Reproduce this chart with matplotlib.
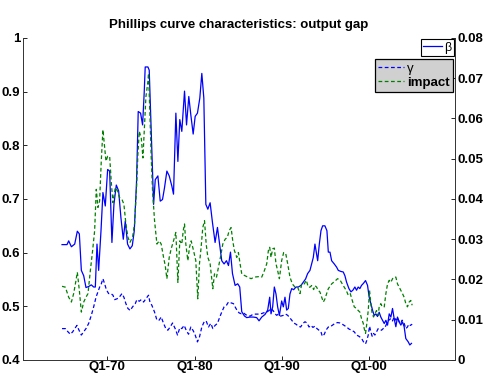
import matplotlib
matplotlib.use("Agg")
import matplotlib.pyplot as plt

plt.rcParams['font.family'] = ['Liberation Sans', 'DejaVu Sans']

# beta (left axis)
beta_t = [1964.82, 1965.39, 1965.58, 1965.89, 1966.27, 1966.57, 1966.80, 1967.03, 1967.30, 1967.56,
          1967.87, 1968.17, 1968.44, 1968.63, 1968.82, 1969.01, 1969.28, 1969.50, 1969.77, 1970.04,
          1970.27, 1970.53, 1970.76, 1971.03, 1971.30, 1971.56, 1971.83, 1972.06, 1972.32, 1972.59,
          1972.86, 1973.09, 1973.35, 1973.54, 1973.81, 1974.04, 1974.23, 1974.34, 1974.65, 1974.80,
          1975.03, 1975.30, 1975.49, 1975.79, 1976.06, 1976.32, 1976.55, 1976.82, 1977.09, 1977.39,
          1977.58, 1977.85, 1978.08, 1978.30, 1978.53, 1978.84, 1979.07, 1979.33, 1979.56, 1979.83,
          1980.06, 1980.32, 1980.59, 1980.82, 1981.05, 1981.28, 1981.51, 1981.77, 1982.04, 1982.34,
          1982.61, 1982.88, 1983.10, 1983.37, 1983.64, 1983.87, 1984.10, 1984.33, 1984.63, 1984.93,
          1985.16, 1985.39, 1985.70, 1985.96, 1986.34, 1986.72, 1987.10, 1987.37, 1987.68, 1988.06,
          1988.36, 1988.59, 1988.74, 1988.93, 1989.12, 1989.31, 1989.50, 1989.70, 1989.96, 1990.15,
          1990.34, 1990.53, 1990.72, 1990.91, 1991.11, 1991.33, 1991.60, 1991.87, 1992.17, 1992.44,
          1992.70, 1992.93, 1993.20, 1993.39, 1993.58, 1993.77, 1993.92, 1994.08, 1994.27, 1994.46,
          1994.65, 1994.91, 1995.14, 1995.30, 1995.49, 1995.68, 1995.98, 1996.25, 1996.44, 1996.74,
          1997.01, 1997.20, 1997.39, 1997.66, 1997.89, 1998.11, 1998.34, 1998.53, 1998.72, 1998.91,
          1999.10, 1999.33, 1999.56, 1999.79, 1999.98, 2000.17, 2000.36, 2000.55, 2000.74, 2000.93,
          2001.12, 2001.31, 2001.50, 2001.70, 2001.89, 2002.08, 2002.27, 2002.46, 2002.65, 2002.84,
          2003.03, 2003.22, 2003.41, 2003.60, 2003.79, 2003.98, 2004.17, 2004.44, 2004.63, 2004.82]
beta = [0.615, 0.615, 0.622, 0.611, 0.616, 0.640, 0.635, 0.567, 0.557, 0.535,
        0.537, 0.540, 0.536, 0.536, 0.616, 0.567, 0.641, 0.712, 0.687, 0.755,
        0.752, 0.619, 0.690, 0.726, 0.715, 0.665, 0.625, 0.659, 0.616, 0.607,
        0.613, 0.641, 0.733, 0.863, 0.860, 0.838, 0.900, 0.946, 0.946, 0.940,
        0.826, 0.690, 0.736, 0.743, 0.696, 0.699, 0.721, 0.752, 0.743, 0.724,
        0.709, 0.860, 0.770, 0.848, 0.826, 0.901, 0.838, 0.891, 0.857, 0.821,
        0.854, 0.860, 0.888, 0.934, 0.888, 0.690, 0.681, 0.693, 0.656, 0.619,
        0.647, 0.613, 0.585, 0.579, 0.585, 0.576, 0.601, 0.561, 0.539, 0.542,
        0.536, 0.490, 0.482, 0.479, 0.480, 0.480, 0.479, 0.473, 0.480, 0.485,
        0.493, 0.517, 0.486, 0.499, 0.536, 0.523, 0.499, 0.483, 0.510, 0.499,
        0.517, 0.493, 0.496, 0.523, 0.533, 0.531, 0.536, 0.536, 0.539, 0.545,
        0.551, 0.561, 0.567, 0.579, 0.591, 0.616, 0.601, 0.585, 0.616, 0.641,
        0.650, 0.650, 0.641, 0.601, 0.601, 0.585, 0.579, 0.573, 0.567, 0.565,
        0.564, 0.557, 0.545, 0.533, 0.527, 0.530, 0.536, 0.530, 0.536, 0.533,
        0.539, 0.543, 0.548, 0.539, 0.517, 0.505, 0.493, 0.483, 0.486, 0.481,
        0.489, 0.480, 0.474, 0.468, 0.474, 0.465, 0.486, 0.480, 0.496, 0.477,
        0.462, 0.480, 0.471, 0.465, 0.471, 0.462, 0.440, 0.434, 0.428, 0.431]

# gamma (right axis)
gamma_t = [1964.82, 1965.20, 1965.50, 1965.77, 1966.04, 1966.27, 1966.53, 1966.72, 1967.03, 1967.30,
           1967.56, 1967.87, 1968.17, 1968.44, 1968.71, 1968.93, 1969.12, 1969.31, 1969.50, 1969.70,
           1969.89, 1970.15, 1970.42, 1970.65, 1970.84, 1971.11, 1971.37, 1971.68, 1971.90, 1972.13,
           1972.36, 1972.63, 1972.89, 1973.20, 1973.39, 1973.66, 1973.89, 1974.15, 1974.42, 1974.72,
           1974.88, 1975.10, 1975.41, 1975.68, 1975.94, 1976.17, 1976.44, 1976.70, 1976.93, 1977.20,
           1977.47, 1977.77, 1978.04, 1978.30, 1978.53, 1978.80, 1979.03, 1979.30, 1979.56, 1979.83,
           1980.06, 1980.32, 1980.55, 1980.82, 1981.09, 1981.32, 1981.58, 1981.85, 1982.08, 1982.34,
           1982.61, 1982.88, 1983.10, 1983.37, 1983.64, 1983.87, 1984.17, 1984.44, 1984.63, 1984.86,
           1985.09, 1985.32, 1985.58, 1985.96, 1986.34, 1986.72, 1987.10, 1987.49, 1987.87, 1988.25,
           1988.52, 1988.74, 1989.01, 1989.20, 1989.39, 1989.58, 1989.85, 1990.15, 1990.42, 1990.65,
           1990.88, 1991.11, 1991.33, 1991.60, 1991.87, 1992.13, 1992.40, 1992.63, 1992.86, 1993.09,
           1993.31, 1993.54, 1993.77, 1994.00, 1994.23, 1994.46, 1994.61, 1994.84, 1995.03, 1995.30,
           1995.49, 1995.75, 1996.06, 1996.36, 1996.63, 1996.90, 1997.12, 1997.39, 1997.66, 1997.96,
           1998.27, 1998.53, 1998.80, 1999.10, 1999.33, 1999.56, 1999.71, 1999.87, 2000.02, 2000.17,
           2000.32, 2000.48, 2000.63, 2000.82, 2001.01, 2001.20, 2001.39, 2001.58, 2001.77, 2002.00,
           2002.23, 2002.46, 2002.65, 2002.84, 2003.03, 2003.22, 2003.41, 2003.60, 2003.75, 2003.98,
           2004.17, 2004.36, 2004.51, 2004.70, 2004.90]
gamma = [0.0078, 0.0078, 0.0070, 0.0064, 0.0070, 0.0078, 0.0086, 0.0076, 0.0062, 0.0070,
         0.0078, 0.0091, 0.0111, 0.0132, 0.0156, 0.0169, 0.0181, 0.0189, 0.0202, 0.0189,
         0.0175, 0.0165, 0.0165, 0.0161, 0.0150, 0.0152, 0.0156, 0.0165, 0.0156, 0.0140,
         0.0128, 0.0123, 0.0132, 0.0140, 0.0150, 0.0146, 0.0150, 0.0144, 0.0152, 0.0161,
         0.0144, 0.0136, 0.0119, 0.0099, 0.0099, 0.0107, 0.0091, 0.0078, 0.0074, 0.0082,
         0.0092, 0.0078, 0.0062, 0.0080, 0.0078, 0.0086, 0.0074, 0.0064, 0.0082, 0.0073,
         0.0062, 0.0045, 0.0057, 0.0082, 0.0095, 0.0097, 0.0082, 0.0091, 0.0078, 0.0086,
         0.0091, 0.0107, 0.0119, 0.0132, 0.0136, 0.0144, 0.0142, 0.0140, 0.0132, 0.0123,
         0.0117, 0.0115, 0.0117, 0.0111, 0.0109, 0.0114, 0.0114, 0.0114, 0.0117, 0.0119,
         0.0123, 0.0128, 0.0122, 0.0115, 0.0111, 0.0114, 0.0109, 0.0111, 0.0114, 0.0111,
         0.0105, 0.0099, 0.0092, 0.0089, 0.0084, 0.0082, 0.0091, 0.0095, 0.0092, 0.0082,
         0.0086, 0.0081, 0.0084, 0.0078, 0.0074, 0.0070, 0.0059, 0.0064, 0.0074, 0.0082,
         0.0082, 0.0086, 0.0091, 0.0093, 0.0092, 0.0089, 0.0086, 0.0082, 0.0077, 0.0074,
         0.0070, 0.0062, 0.0059, 0.0054, 0.0045, 0.0040, 0.0049, 0.0062, 0.0084, 0.0070,
         0.0059, 0.0066, 0.0062, 0.0070, 0.0078, 0.0076, 0.0074, 0.0078, 0.0080, 0.0091,
         0.0099, 0.0103, 0.0097, 0.0107, 0.0099, 0.0105, 0.0095, 0.0091, 0.0099, 0.0091,
         0.0078, 0.0082, 0.0089, 0.0086, 0.0089]

# impact (right axis)
impact_t = [1964.82, 1965.20, 1965.58, 1965.89, 1966.15, 1966.42, 1966.57, 1966.80, 1967.03, 1967.30,
            1967.56, 1967.79, 1968.06, 1968.32, 1968.55, 1968.74, 1968.93, 1969.12, 1969.31, 1969.50,
            1969.70, 1969.85, 1970.04, 1970.27, 1970.46, 1970.65, 1970.91, 1971.18, 1971.41, 1971.68,
            1971.90, 1972.13, 1972.36, 1972.59, 1972.89, 1973.12, 1973.35, 1973.50, 1973.66, 1973.89,
            1974.08, 1974.27, 1974.42, 1974.65, 1974.72, 1974.88, 1975.03, 1975.18, 1975.41, 1975.68,
            1975.94, 1976.17, 1976.44, 1976.63, 1976.82, 1977.09, 1977.31, 1977.58, 1977.85, 1978.08,
            1978.30, 1978.53, 1978.69, 1978.84, 1978.99, 1979.22, 1979.41, 1979.60, 1979.87, 1980.13,
            1980.36, 1980.55, 1980.74, 1980.93, 1981.13, 1981.32, 1981.51, 1981.77, 1982.08, 1982.27,
            1982.50, 1982.72, 1982.95, 1983.22, 1983.49, 1983.75, 1983.94, 1984.17, 1984.36, 1984.55,
            1984.82, 1985.01, 1985.20, 1985.39, 1985.70, 1986.08, 1986.46, 1986.84, 1987.30, 1987.68,
            1987.98, 1988.25, 1988.44, 1988.59, 1988.74, 1988.93, 1989.12, 1989.31, 1989.50, 1989.70,
            1989.96, 1990.19, 1990.42, 1990.65, 1990.91, 1991.18, 1991.49, 1991.79, 1992.06, 1992.25,
            1992.55, 1992.78, 1993.01, 1993.20, 1993.39, 1993.62, 1993.77, 1993.96, 1994.15, 1994.34,
            1994.54, 1994.73, 1994.92, 1995.11, 1995.30, 1995.68, 1996.06, 1996.36, 1996.63, 1996.90,
            1997.12, 1997.35, 1997.58, 1997.81, 1998.04, 1998.27, 1998.53, 1998.72, 1998.91, 1999.10,
            1999.30, 1999.41, 1999.56, 1999.71, 1999.87, 2000.02, 2000.17, 2000.32, 2000.48, 2000.63,
            2000.82, 2001.01, 2001.12, 2001.31, 2001.47, 2001.70, 2001.89, 2002.08, 2002.27, 2002.46,
            2002.65, 2002.84, 2003.03, 2003.22, 2003.41, 2003.60, 2003.79, 2003.98, 2004.17, 2004.36,
            2004.55, 2004.74, 2004.90]
impact = [0.0183, 0.0181, 0.0156, 0.0144, 0.0165, 0.0198, 0.0218, 0.0173, 0.0119, 0.0144,
          0.0156, 0.0165, 0.0222, 0.0272, 0.0321, 0.0424, 0.0379, 0.0395, 0.0494, 0.0572,
          0.0527, 0.0494, 0.0506, 0.0506, 0.0440, 0.0391, 0.0428, 0.0420, 0.0403, 0.0399,
          0.0387, 0.0338, 0.0305, 0.0292, 0.0305, 0.0338, 0.0428, 0.0510, 0.0568, 0.0551,
          0.0502, 0.0584, 0.0654, 0.0692, 0.0712, 0.0609, 0.0502, 0.0420, 0.0346, 0.0288,
          0.0296, 0.0288, 0.0255, 0.0235, 0.0202, 0.0255, 0.0276, 0.0296, 0.0317, 0.0193,
          0.0296, 0.0288, 0.0321, 0.0338, 0.0288, 0.0247, 0.0280, 0.0296, 0.0272, 0.0247,
          0.0152, 0.0239, 0.0280, 0.0329, 0.0346, 0.0288, 0.0255, 0.0239, 0.0177, 0.0214,
          0.0206, 0.0230, 0.0255, 0.0288, 0.0300, 0.0305, 0.0321, 0.0329, 0.0296, 0.0272,
          0.0255, 0.0267, 0.0239, 0.0214, 0.0210, 0.0206, 0.0202, 0.0206, 0.0207, 0.0206,
          0.0222, 0.0239, 0.0272, 0.0280, 0.0255, 0.0276, 0.0278, 0.0239, 0.0222, 0.0202,
          0.0247, 0.0267, 0.0265, 0.0239, 0.0206, 0.0189, 0.0181, 0.0181, 0.0165, 0.0189,
          0.0189, 0.0198, 0.0181, 0.0181, 0.0185, 0.0175, 0.0185, 0.0181, 0.0173, 0.0169,
          0.0156, 0.0144, 0.0152, 0.0165, 0.0177, 0.0189, 0.0196, 0.0202, 0.0199, 0.0189,
          0.0181, 0.0173, 0.0161, 0.0165, 0.0148, 0.0132, 0.0128, 0.0123, 0.0119, 0.0103,
          0.0091, 0.0078, 0.0066, 0.0091, 0.0123, 0.0173, 0.0140, 0.0115, 0.0107, 0.0115,
          0.0123, 0.0111, 0.0132, 0.0140, 0.0132, 0.0132, 0.0165, 0.0189, 0.0198, 0.0193,
          0.0202, 0.0206, 0.0206, 0.0189, 0.0181, 0.0173, 0.0165, 0.0156, 0.0140, 0.0132,
          0.0144, 0.0148, 0.0136]

xtick_pos = [1970, 1980, 1990, 2000]
xtick_labels = ['Q1-70', 'Q1-80', 'Q1-90', 'Q1-00']
left_ticks = [0.4, 0.5, 0.6, 0.7, 0.8, 0.9, 1.0]
left_labels = ['0.4', '0.5', '0.6', '0.7', '0.8', '0.9', '1']
right_ticks = [0, 0.01, 0.02, 0.03, 0.04, 0.05, 0.06, 0.07, 0.08]
right_labels = ['0', '0.01', '0.02', '0.03', '0.04', '0.05', '0.06', '0.07', '0.08']

fig = plt.figure(figsize=(4.83, 3.75), dpi=100)
ax = fig.add_axes([0.0476, 0.04, 0.8944, 0.8587])
ax2 = ax.twinx()

l1, = ax.plot(beta_t, beta, color='#0000ff', lw=0.9, label='\u03b2')
l2, = ax2.plot(gamma_t, gamma, color='#0000ff', lw=0.9, ls=(0, (3, 2)), label='\u03b3')
l3, = ax2.plot(impact_t, impact, color='#008000', lw=0.9, ls=(0, (3, 2)), label='impact')

ax.set_xlim(1960.35, 2009.8)
ax.set_ylim(0.4, 1.0)
ax2.set_ylim(0, 0.08)

fs = 9.5
ax.set_xticks(xtick_pos)
ax.set_xticklabels(xtick_labels, fontweight='bold', fontsize=fs)
ax.set_yticks(left_ticks)
ax.set_yticklabels(left_labels, fontweight='bold', fontsize=fs)
ax2.set_yticks(right_ticks)
ax2.set_yticklabels(right_labels, fontweight='bold', fontsize=fs)

ax.tick_params(direction='in', length=3, width=0.6, pad=2)
ax.tick_params(axis='x', pad=1)
ax2.tick_params(direction='in', length=3, width=0.6, pad=2)

for a in (ax, ax2):
    a.spines['top'].set_visible(False)
    for s in ('left', 'right', 'bottom'):
        a.spines[s].set_linewidth(0.6)
        a.spines[s].set_color('#333333')

ax.set_title('Phillips curve characteristics: output gap', fontsize=fs,
             fontweight='bold', pad=7)

leg1 = ax.legend(handles=[l1], loc='upper right', bbox_to_anchor=(454 / 483, 1 - 39 / 375),
                 bbox_transform=fig.transFigure, fontsize=9, fancybox=False,
                 edgecolor='black', framealpha=1, handlelength=1.5, handletextpad=0.2,
                 borderpad=0.2, borderaxespad=0)
leg1.get_frame().set_linewidth(0.8)

leg2 = ax2.legend(handles=[l2, l3], loc='upper right', bbox_to_anchor=(453 / 483, 1 - 59 / 375),
                  bbox_transform=fig.transFigure, fontsize=9.5, fancybox=False,
                  edgecolor='black', facecolor='#d0d0d0', framealpha=1, handlelength=2.0,
                  handletextpad=0.2, borderpad=0.25, labelspacing=0.15, borderaxespad=0)
leg2.get_frame().set_linewidth(0.9)
leg2.get_texts()[1].set_fontweight('bold')

fig.savefig('out.png', dpi=100)
